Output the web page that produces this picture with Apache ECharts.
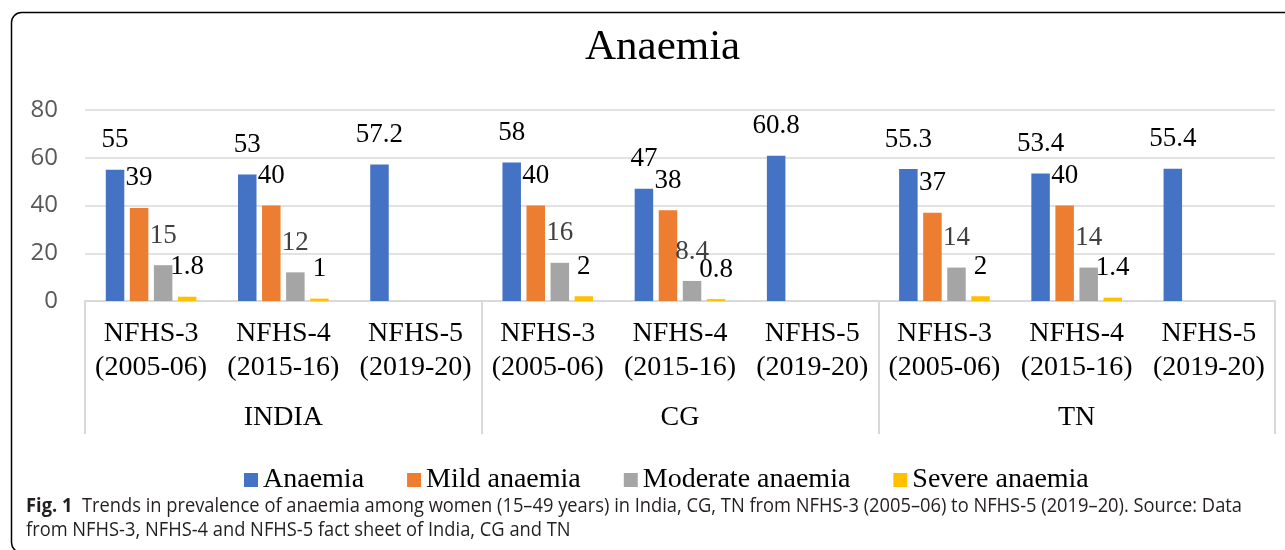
<!DOCTYPE html>
<html>
<head>
<meta charset="utf-8">
<script src="https://cdn.jsdelivr.net/npm/echarts@6/dist/echarts.min.js"></script>
<style>
  html, body { margin: 0; padding: 0; background: #fff; }
  #chart { width: 1285px; height: 550px; }
</style>
</head>
<body>
<div id="chart"></div>
<script>
// ---- Data ----
const categories = [
  'NFHS-3\n(2005-06)', 'NFHS-4\n(2015-16)', 'NFHS-5\n(2019-20)',
  'NFHS-3\n(2005-06)', 'NFHS-4\n(2015-16)', 'NFHS-5\n(2019-20)',
  'NFHS-3\n(2005-06)', 'NFHS-4\n(2015-16)', 'NFHS-5\n(2019-20)'
];
const groups = ['INDIA', 'CG', 'TN'];
const anaemia = [55, 53, 57.2, 58, 47, 60.8, 55.3, 53.4, 55.4];
const mild = [39, 40, '-', 40, 38, '-', 37, 40, '-'];
const moderate = [15, 12, '-', 16, 8.4, '-', 14, 14, '-'];
const severe = [1.8, 1, '-', 2, 0.8, '-', 2, 1.4, '-'];
const seriesNames = ['Anaemia', 'Mild anaemia', 'Moderate anaemia', 'Severe anaemia'];
const yTicks = { min: 0, max: 80, interval: 20 };
const titleText = 'Anaemia';
const captionBold = 'Fig. 1';
const captionLine1 = '  Trends in prevalence of anaemia among women (15–49 years) in India, CG, TN from NFHS-3 (2005–06) to NFHS-5 (2019–20). Source: Data';
const captionLine2 = 'from NFHS-3, NFHS-4 and NFHS-5 fact sheet of India, CG and TN';

// ---- Styles ----
const SERIF = '"Liberation Serif", "Times New Roman", serif';
const SANS = '"Open Sans", sans-serif';
const colors = ['#4472C4', '#ED7D31', '#A5A5A5', '#FFC000'];
const labelColors = ['#000', '#000', '#404040', '#000'];
const capFont = 19.5;

// measure caption to fit the reference width
const cv = document.createElement('canvas').getContext('2d');
cv.font = 'bold ' + capFont + 'px "Open Sans"';
const wb = cv.measureText(captionBold).width;
cv.font = capFont + 'px "Open Sans"';
const w1 = cv.measureText(captionLine1).width;
const capScale = 1216 / (wb + w1);

const chart = echarts.init(document.getElementById('chart'), null, { renderer: 'canvas' });

function barSeries(name, data, i) {
  return {
    name: name,
    type: 'bar',
    data: data,
    barWidth: 18.5,
    barGap: '30%',
    itemStyle: { color: colors[i] },
    label: {
      show: true,
      position: 'top',
      distance: 16,
      fontFamily: SERIF,
      fontSize: 27,
      color: labelColors[i]
    },
    emphasis: { disabled: true }
  };
}

const option = {
  animation: false,
  title: {
    text: titleText,
    left: 580,
    top: 21,
    textStyle: { fontFamily: SERIF, fontSize: 43, fontWeight: 'normal', color: '#000' }
  },
  legend: {
    data: seriesNames,
    left: 239,
    top: 461,
    icon: 'rect',
    itemWidth: 14,
    itemHeight: 14,
    itemGap: 43,
    textStyle: { fontFamily: SERIF, fontSize: 28, color: '#000' }
  },
  grid: { left: 85, right: 10, top: 110, bottom: 249, containLabel: false },
  xAxis: [
    {
      type: 'category',
      data: categories,
      position: 'bottom',
      axisLine: { show: true, lineStyle: { color: '#d9d9d9', width: 2 } },
      axisTick: { show: false },
      axisLabel: {
        interval: 0,
        margin: 16,
        fontFamily: SERIF,
        fontSize: 28,
        lineHeight: 34,
        color: '#000'
      }
    },
    {
      type: 'category',
      data: groups,
      position: 'bottom',
      gridIndex: 0,
      axisLine: { show: false },
      axisTick: { show: true, length: 133, lineStyle: { color: '#d9d9d9', width: 2 } },
      axisLabel: {
        interval: 0,
        margin: 103,
        fontFamily: SERIF,
        fontSize: 28,
        color: '#000'
      }
    }
  ],
  yAxis: {
    type: 'value',
    min: yTicks.min,
    max: yTicks.max,
    interval: yTicks.interval,
    axisLine: { show: false },
    axisTick: { show: false },
    splitLine: { lineStyle: { color: '#d9d9d9', width: 1.5 } },
    axisLabel: { fontFamily: SANS, fontSize: 24, color: '#595959', margin: 27 }
  },
  series: [
    barSeries(seriesNames[0], anaemia, 0),
    barSeries(seriesNames[1], mild, 1),
    barSeries(seriesNames[2], moderate, 2),
    barSeries(seriesNames[3], severe, 3)
  ],
  graphic: [
    {
      type: 'rect',
      silent: true,
      z: -10,
      shape: { x: 11.5, y: 12.5, width: 1300, height: 540, r: 10 },
      style: { fill: 'none', stroke: '#000', lineWidth: 1.5 }
    },
    {
      type: 'text',
      silent: true,
      x: 26,
      y: 506,
      scaleX: capScale,
      originX: 0,
      style: {
        text: '{b|' + captionBold + '}' + captionLine1,
        fontFamily: SANS,
        fontSize: capFont,
        fill: '#231f20',
        verticalAlign: 'middle',
        rich: { b: { fontWeight: 'bold', fontFamily: SANS, fontSize: capFont, fill: '#231f20' } }
      }
    },
    {
      type: 'text',
      silent: true,
      x: 26,
      y: 530,
      scaleX: capScale,
      originX: 0,
      style: {
        text: captionLine2,
        fontFamily: SANS,
        fontSize: capFont,
        fill: '#231f20',
        verticalAlign: 'middle'
      }
    }
  ]
};
chart.setOption(option);
</script>
</body>
</html>
